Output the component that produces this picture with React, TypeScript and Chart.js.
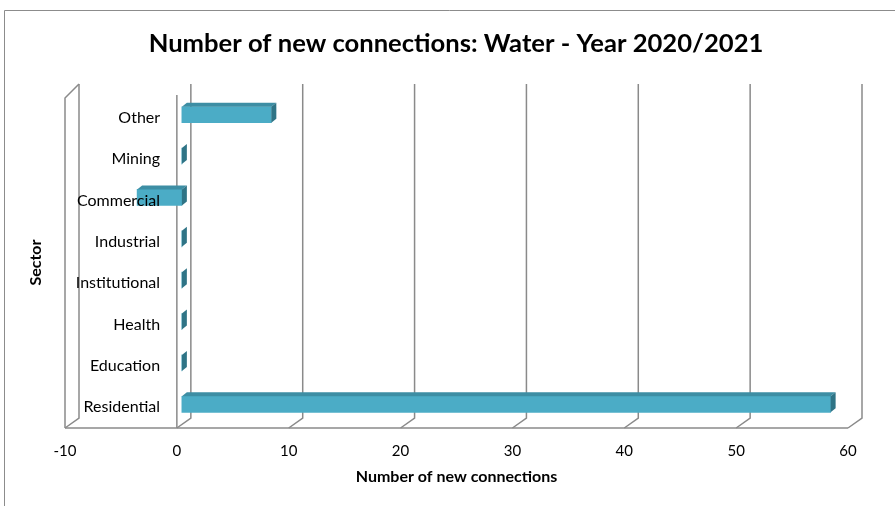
import React, { useEffect, useRef } from 'react';
import { Chart, registerables } from 'chart.js';

Chart.register(...registerables);

const categories = ['Other', 'Mining', 'Commercial', 'Industrial', 'Institutional', 'Health', 'Education', 'Residential'];
const connections = [8, 0, -4, 0, 0, 0, 0, 58];
const xTicks = [-10, 0, 10, 20, 30, 40, 50, 60];
const chartTitle = 'Number of new connections: Water - Year 2020/2021';
const xAxisTitle = 'Number of new connections';
const yAxisTitle = 'Sector';

const FONT = 'Lato';
const GRID = '#8a8a8a';
const WALL_DX = 14;
const BAR_DX = 5;
const BAR_DY = 4;
const BAR_SHIFT_X = 5;
const BAR_SHIFT_Y = -3;

const threeD = {
  id: 'threeD',
  beforeDraw(chart: any) {
    const { ctx, width, height } = chart;
    ctx.save();
    ctx.fillStyle = '#ffffff';
    ctx.fillRect(0, 0, width, height);
    ctx.strokeStyle = '#8c8c8c';
    ctx.lineWidth = 1;
    ctx.beginPath();
    ctx.moveTo(4.5, height);
    ctx.lineTo(4.5, 10.5);
    ctx.lineTo(width, 10.5);
    ctx.stroke();
    ctx.restore();
  },
  beforeDatasetsDraw(chart: any) {
    const { ctx, chartArea: a, scales } = chart;
    const xs = scales.x;
    const backTop = a.top - 13;
    const backBottom = a.bottom - 10;
    ctx.save();
    ctx.strokeStyle = GRID;
    ctx.lineWidth = 1.5;
    xs.ticks.forEach((t: any) => {
      const px = xs.getPixelForValue(t.value);
      ctx.beginPath();
      ctx.moveTo(px, a.bottom);
      ctx.lineTo(px + WALL_DX, backBottom);
      ctx.lineTo(px + WALL_DX, backTop);
      ctx.stroke();
    });
    ctx.beginPath();
    ctx.moveTo(a.left, a.bottom);
    ctx.lineTo(a.right, a.bottom);
    ctx.stroke();
    ctx.beginPath();
    ctx.moveTo(a.left, a.bottom);
    ctx.lineTo(a.left, a.top + 1);
    ctx.lineTo(a.left + WALL_DX, backTop);
    ctx.stroke();
    const z = xs.getPixelForValue(0);
    ctx.beginPath();
    ctx.moveTo(z, a.bottom);
    ctx.lineTo(z, a.top - 2);
    ctx.stroke();
    ctx.restore();
    ctx.save();
    ctx.translate(BAR_SHIFT_X, BAR_SHIFT_Y);
  },
  afterDatasetsDraw(chart: any) {
    const { ctx } = chart;
    const meta = chart.getDatasetMeta(0);
    meta.data.forEach((el: any) => {
      const p = el.getProps(['x', 'y', 'base', 'height'], true);
      const left = Math.min(p.x, p.base);
      const right = Math.max(p.x, p.base);
      const top = p.y - p.height / 2;
      const bottom = p.y + p.height / 2;
      ctx.fillStyle = '#3d8ea4';
      ctx.beginPath();
      ctx.moveTo(left, top);
      ctx.lineTo(right, top);
      ctx.lineTo(right + BAR_DX, top - BAR_DY);
      ctx.lineTo(left + BAR_DX, top - BAR_DY);
      ctx.closePath();
      ctx.fill();
      ctx.fillStyle = '#2f7486';
      ctx.beginPath();
      ctx.moveTo(right, top);
      ctx.lineTo(right, bottom);
      ctx.lineTo(right + BAR_DX, bottom - BAR_DY);
      ctx.lineTo(right + BAR_DX, top - BAR_DY);
      ctx.closePath();
      ctx.fill();
    });
    ctx.restore();
  },
};

export default function App() {
  const ref = useRef<HTMLCanvasElement>(null);
  useEffect(() => {
    if (!ref.current) return;
    Chart.defaults.font.family = FONT;
    const chart = new Chart(ref.current, {
      type: 'bar',
      data: {
        labels: categories,
        datasets: [
          {
            data: connections,
            backgroundColor: '#4bacc6',
            borderWidth: 0,
            barThickness: 16,
            clip: false as any,
          },
        ],
      },
      plugins: [threeD],
      options: {
        indexAxis: 'y',
        animation: false,
        responsive: false,
        devicePixelRatio: 1,
        layout: { padding: { left: 17, right: 0, top: 0, bottom: 0 } },
        plugins: {
          legend: { display: false },
          tooltip: { enabled: false },
          title: {
            display: true,
            text: chartTitle,
            color: '#000',
            font: { family: FONT, size: 25.6, weight: 'bold', lineHeight: 1.2 },
            padding: { top: 28.6, bottom: 37.7 },
          },
        },
        scales: {
          x: {
            type: 'linear',
            position: 'bottom',
            min: -10,
            max: 60,
            afterBuildTicks: (s: any) => {
              s.ticks = xTicks.map((v) => ({ value: v }));
            },
            ticks: { color: '#000', font: { family: FONT, size: 15 }, padding: 14 },
            grid: { display: false, drawTicks: false },
            border: { display: false },
            title: {
              display: true,
              text: xAxisTitle,
              color: '#000',
              font: { family: FONT, size: 16, weight: 'bold', lineHeight: 1.2 },
              padding: { top: 0, bottom: 19.4 },
            },
            afterFit: (s: any) => {
              s.height = 78;
            },
          },
          y: {
            type: 'category',
            position: { x: -1.5 } as any,
            grid: { display: false, drawTicks: false },
            border: { display: false },
            ticks: { color: '#000', font: { family: FONT, size: 16 }, padding: 0, z: 1 },
          },
          yTitle: {
            type: 'linear',
            axis: 'y',
            position: 'left',
            min: 0,
            max: 1,
            ticks: { display: false },
            grid: { display: false, drawTicks: false },
            border: { display: false },
            title: {
              display: true,
              text: yAxisTitle,
              color: '#000',
              font: { family: FONT, size: 16, weight: 'bold', lineHeight: 1.2 },
              padding: { top: 9.4, bottom: 0 },
            },
            afterFit: (s: any) => {
              s.width = 48;
            },
          },
          yRight: {
            type: 'linear',
            axis: 'y',
            position: 'right',
            min: 0,
            max: 1,
            ticks: { display: false },
            grid: { display: false, drawTicks: false },
            border: { display: false },
            afterFit: (s: any) => {
              s.width = 47;
            },
          },
        } as any,
      },
    });
    return () => chart.destroy();
  }, []);
  return (
    <div style={{ position: 'fixed', left: 0, top: 0, width: 895, height: 506, background: '#fff' }}>
      <canvas ref={ref} width={895} height={506} style={{ display: 'block', width: 895, height: 506 }} />
    </div>
  );
}
